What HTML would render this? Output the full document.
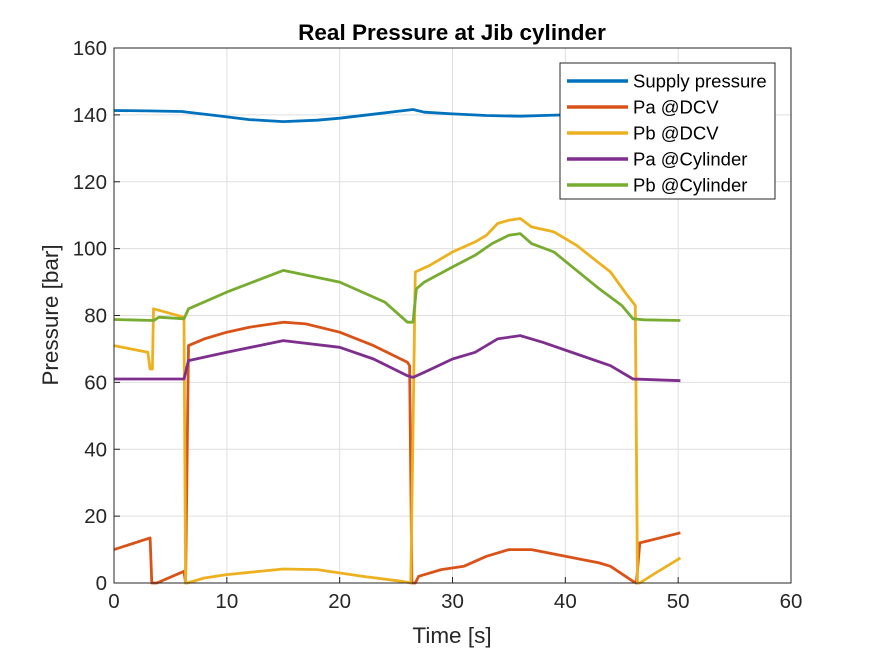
<!DOCTYPE html>
<html><head><meta charset="utf-8"><style>
body{margin:0;background:#fff;}
svg{display:block;font-family:"Liberation Sans",Arial,sans-serif;}
</style></head><body>
<svg id="chart" width="875" height="656" viewBox="0 0 875 656" xmlns="http://www.w3.org/2000/svg">
<rect width="875" height="656" fill="#fff"/>
<g id="grid"></g>
<g id="series" fill="none" stroke-width="2.8" stroke-linejoin="round"></g>
<rect x="114" y="48" width="677" height="535" fill="none" stroke="#262626" stroke-width="1"/>
<g id="ticks"></g>
<text x="452" y="40" text-anchor="middle" font-size="22.5" font-weight="bold" fill="#000">Real Pressure at Jib cylinder</text>
<text x="452" y="643" text-anchor="middle" font-size="22.5" fill="#262626">Time [s]</text>
<text transform="translate(58,315) rotate(-90)" text-anchor="middle" font-size="22.5" fill="#262626">Pressure [bar]</text>
<g id="legend"></g>
</svg>
<script>
const xTicks=[0,10,20,30,40,50,60];
const yTicks=[0,20,40,60,80,100,120,140,160];
const seriesNames=["Supply pressure","Pa @DCV","Pb @DCV","Pa @Cylinder","Pb @Cylinder"];
const seriesColors=["#0072BD","#D95319","#EDB120","#7E2F8E","#77AC30"];
const supplyT=[0,3,6,7,9,12,15,18,20,23,25,26.5,27.5,30,33,36,38,41,45,50.2];
const supplyV=[141.3,141.2,141,140.6,139.8,138.6,138,138.4,139,140.2,141,141.6,140.8,140.3,139.8,139.6,139.8,140.1,140.2,140.1];
const paDcvT=[0,3.2,3.35,3.8,6.2,6.35,6.6,8,10,12,15,17,20,23,26,26.2,26.4,26.7,27,29,31,33,35,37,40,43,44,46,46.3,46.6,50.2];
const paDcvV=[10,13.5,0,0,3.5,0,71,73,75,76.5,78,77.5,75,71,66,65,0,0,2,4,5,8,10,10,8,6,5,0.5,0,12,15];
const pbDcvT=[0,3,3.2,3.4,3.5,6.2,6.35,6.5,8,10,15,18,22,25.5,26.3,26.7,28,30,32,33,34,35,36,37,39,41,42.5,44,45.5,46.2,46.4,46.6,48,50.2];
const pbDcvV=[71,69,64,64,82,79.5,0,0,1.5,2.5,4.2,4,2,0.5,0,93,95,99,102,104,107.5,108.5,109,106.5,105,101,97,93,86,83,0,0,3,7.5];
const paCylT=[0,6.2,6.6,10,15,20,23,26,26.5,27.5,30,32,34,36,38,41,44,46,50.2];
const paCylV=[61,61,66.5,69,72.5,70.5,67,62,61.5,63,67,69,73,74,72,68.5,65,61,60.5];
const pbCylT=[0,3.5,4,6.2,6.6,10,15,20,24,26,26.5,26.8,27.5,30,32,33.5,35,36,37,39,41,43,45,46,47,50.2];
const pbCylV=[78.8,78.5,79.5,79,82,87,93.5,90,84,78,78,88,90,94.5,98,101.5,104,104.5,101.5,99,93.5,88,83,79,78.7,78.5];
const allT=[supplyT,paDcvT,pbDcvT,paCylT,pbCylT];
const allV=[supplyV,paDcvV,pbDcvV,paCylV,pbCylV];
const X0=114,X1=791,Y0=583,Y1=48;
const sx=t=>X0+(t-0)/(60-0)*(X1-X0);
const sy=v=>Y0-(v-0)/(160-0)*(Y0-Y1);
const NS="http://www.w3.org/2000/svg";
function mk(tag,attrs,parent){const e=document.createElementNS(NS,tag);for(const k in attrs)e.setAttribute(k,attrs[k]);parent.appendChild(e);return e;}
const grid=document.getElementById('grid'),ticks=document.getElementById('ticks');
xTicks.forEach(t=>{
  const g=mk('line',{x1:sx(t),x2:sx(t),y1:Y1,y2:Y0,stroke:'#dfdfdf','stroke-width':1},grid);
  
  
  const tk=mk('line',{x1:sx(t),x2:sx(t),y1:Y0,y2:Y0-6,stroke:'#262626'},ticks);
  
  
  const l=mk('text',{x:sx(t),y:Y0+25,'text-anchor':'middle','font-size':20.5,fill:'#262626'},ticks);
  l.textContent=t;
  
  
});
yTicks.forEach(v=>{
  const g=mk('line',{x1:X0,x2:X1,y1:sy(v),y2:sy(v),stroke:'#dfdfdf','stroke-width':1},grid);
  
  
  const tk=mk('line',{x1:X0,x2:X0+6,y1:sy(v),y2:sy(v),stroke:'#262626'},ticks);
  
  
  const l=mk('text',{x:X0-7,y:sy(v)+7,'text-anchor':'end','font-size':20.5,fill:'#262626'},ticks);
  l.textContent=v;
  
  
});
const sg=document.getElementById('series');
allT.forEach((ts,i)=>{
  const pts=ts.map((t,j)=>sx(t).toFixed(1)+','+sy(allV[i][j]).toFixed(1)).join(' ');
  const p=mk('polyline',{points:pts,stroke:seriesColors[i]},sg);
  
  
});
const lg=document.getElementById('legend');
const box=mk('rect',{x:560,y:63,width:215,height:136,fill:'#fff',stroke:'#262626','stroke-width':1},lg);


seriesNames.forEach((n,i)=>{
  const y=81+i*26;
  const ln=mk('line',{x1:567,x2:628,y1:y,y2:y,stroke:seriesColors[i],'stroke-width':3.5},lg);
  
  
  const t=mk('text',{x:633,y:y+6.5,'font-size':18.5,fill:'#000'},lg);
  t.textContent=n;
  
  
});
</script>
</body></html>
